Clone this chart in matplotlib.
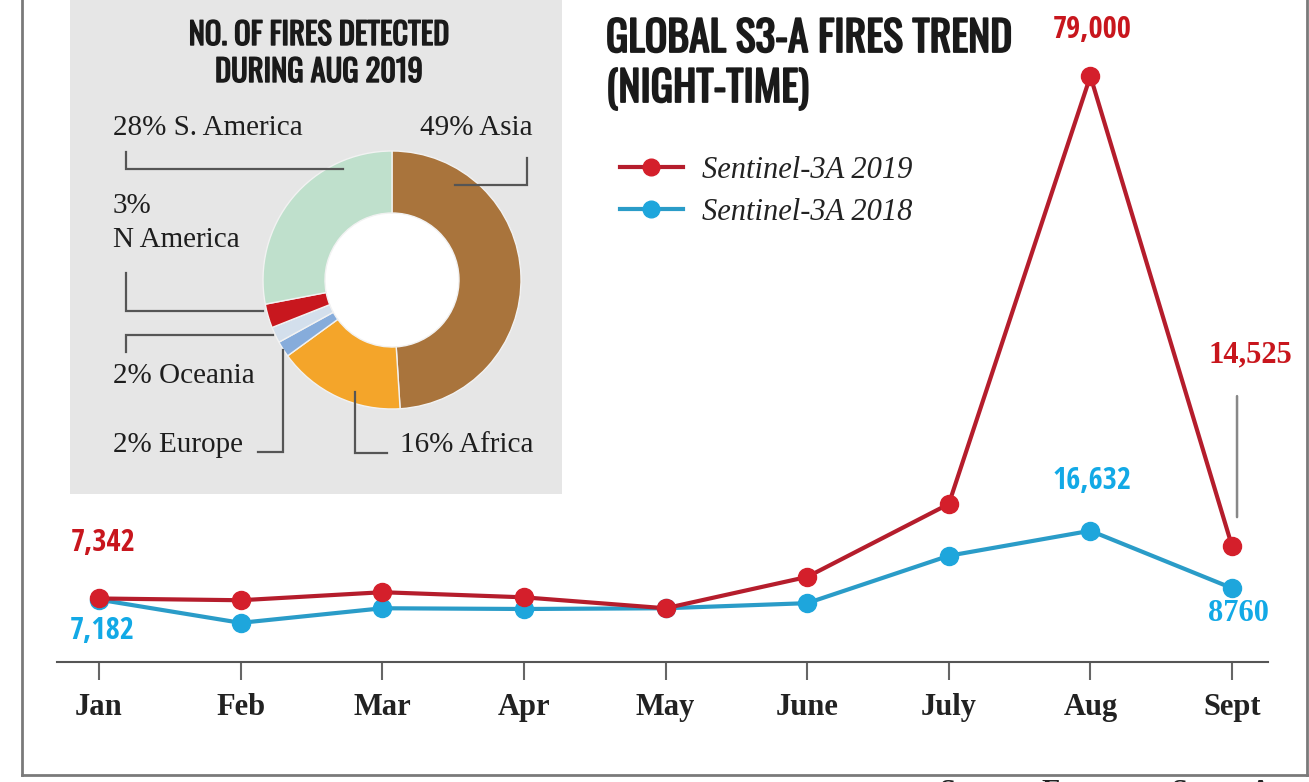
import matplotlib
matplotlib.use('Agg')
import matplotlib.pyplot as plt
import matplotlib.patheffects as pe
from matplotlib.lines import Line2D
from matplotlib.patches import Circle
from matplotlib.transforms import offset_copy

# ---------------- Data ----------------
months = ['Jan', 'Feb', 'Mar', 'Apr', 'May', 'June', 'July', 'Aug', 'Sept']
fires_2019 = [7342, 7100, 8200, 7500, 6000, 10300, 20300, 79000, 14525]
fires_2018 = [7182, 4000, 6000, 5900, 6000, 6700, 13200, 16632, 8760]

regions = ['Asia', 'Africa', 'Europe', 'Oceania', 'N America', 'S. America']
shares = [49, 16, 2, 2, 3, 28]
region_colors = ['#a9743c', '#f4a52a', '#86acdb', '#d3dfec', '#c8171e', '#bfe0cc']

# ---------------- Setup ----------------
W, H = 1309, 782
RED, RED_LINE = '#d41f2b', '#b51d2c'
BLUE, BLUE_LINE = '#1ea6dc', '#2a9cc8'
RED_TXT, BLUE_TXT = '#c8161d', '#12a9e6'
HEAD = ['Oswald', 'Open Sans Condensed', 'Liberation Sans Narrow', 'DejaVu Sans']
NUM = ['Open Sans Condensed', 'Oswald', 'Liberation Sans Narrow', 'DejaVu Sans']
SERIF = ['Liberation Serif', 'DejaVu Serif']
TITLE_FX = [pe.withStroke(linewidth=1.3, foreground='#1a1a1a')]


def fx(px):
    return px / W


def fy(py):
    return 1 - py / H


fig = plt.figure(figsize=(W / 100, H / 100), dpi=100)
fig.patch.set_facecolor('white')

# ---------------- Line chart ----------------
ax = fig.add_axes([fx(57), fy(662), fx(1268) - fx(57), fy(0) - fy(662)])
ax.patch.set_alpha(0)
x = list(range(len(months)))
ax.plot(x, fires_2018, color=BLUE_LINE, lw=3, marker='o', ms=13,
        mfc=BLUE, mec=BLUE, zorder=2)
ax.plot(x, fires_2019, color=RED_LINE, lw=3, marker='o', ms=13,
        mfc=RED, mec=RED, zorder=3)
ax.set_xlim(-0.297, 8.254)
ax.set_ylim(-1372, 89440)

for s in ['top', 'right', 'left']:
    ax.spines[s].set_visible(False)
ax.spines['bottom'].set_color('#555555')
ax.spines['bottom'].set_linewidth(1.5)
ax.set_yticks([])
ax.set_xticks(x)
ax.set_xticklabels(months, fontfamily=SERIF, fontweight='bold', fontsize=22, color='#222222')
ax.tick_params(axis='x', length=13, width=1.5, color='#666666', pad=9)


def label(i, series, text, dx, dy, color, family, size):
    ax.annotate(text, xy=(i, series[i]), xytext=(dx, dy), textcoords='offset pixels',
                ha='center', va='center', color=color, fontfamily=family,
                fontweight='bold', fontsize=size)


label(0, fires_2019, '7,342', 4, 55, RED_TXT, NUM, 22)
label(0, fires_2018, '7,182', 3, -31, BLUE_TXT, NUM, 22)
label(7, fires_2019, '79,000', 2, 46, RED_TXT, NUM, 22)
label(7, fires_2018, '16,632', 2, 50, BLUE_TXT, NUM, 22)
label(8, fires_2019, '14,525', 18, 191, RED_TXT, SERIF, 22)
label(8, fires_2018, '8760', 6, -25, BLUE_TXT, SERIF, 22)

# leader from the Sept 2019 label down to its point
ax.annotate('', xy=(8, fires_2019[8]),
            xycoords=offset_copy(ax.transData, fig=fig, x=5, y=29, units='dots'),
            xytext=(8, fires_2019[8]),
            textcoords=offset_copy(ax.transData, fig=fig, x=5, y=150, units='dots'),
            arrowprops=dict(arrowstyle='-', color='#888888', lw=1.8, shrinkA=0, shrinkB=0))

# titles + legend
fig.text(fx(606), fy(52), 'GLOBAL S3-A FIRES TREND', fontfamily=HEAD, fontweight='bold',
         fontsize=30, color='#1a1a1a', va='baseline', path_effects=TITLE_FX)
fig.text(fx(606), fy(102), '(NIGHT-TIME)', fontfamily=HEAD, fontweight='bold',
         fontsize=30, color='#1a1a1a', va='baseline', path_effects=TITLE_FX)

handles = [Line2D([], [], color=RED_LINE, lw=3, marker='o', ms=12, mfc=RED, mec=RED),
           Line2D([], [], color=BLUE_LINE, lw=3, marker='o', ms=12, mfc=BLUE, mec=BLUE)]
fig.legend(handles, ['Sentinel-3A 2019', 'Sentinel-3A 2018'], loc='upper left',
           bbox_to_anchor=(fx(620), fy(156)), frameon=False,
           prop=dict(family=SERIF, style='italic', size=22),
           handlelength=2.05, handletextpad=0.65, labelspacing=0.42,
           borderpad=0, borderaxespad=0, labelcolor='#222222')

# ---------------- Donut inset ----------------
axp = fig.add_axes([fx(70), fy(494), fx(562) - fx(70), fy(0) - fy(494)])
axp.set_facecolor('#e6e6e6')
cx, cy, r_out, ring = 392, 502, 129, 62
axp.add_patch(Circle((cx, cy), r_out - ring, color='white', zorder=0))
axp.pie(shares, colors=region_colors, startangle=90, counterclock=False,
        radius=r_out, center=(cx, cy), frame=True,
        wedgeprops=dict(width=ring, edgecolor='#f2f2f2', linewidth=1))
axp.set_xlim(70, 562)
axp.set_ylim(H - 494, H)
axp.set_aspect('equal', adjustable='box')
axp.set_xticks([])
axp.set_yticks([])
for s in axp.spines.values():
    s.set_visible(False)

axp.text(319, H - 45, 'NO. OF FIRES DETECTED', ha='center', va='baseline',
         fontfamily=HEAD, fontweight='bold', fontsize=22, color='#1a1a1a',
         path_effects=[pe.withStroke(linewidth=1.0, foreground='#1a1a1a')])
axp.text(319, H - 82, 'DURING AUG 2019', ha='center', va='baseline',
         fontfamily=HEAD, fontweight='bold', fontsize=22, color='#1a1a1a',
         path_effects=[pe.withStroke(linewidth=1.0, foreground='#1a1a1a')])

lbl = dict(fontfamily=SERIF, fontsize=21, color='#1e1e1e', va='baseline')
axp.text(113, H - 135, '28% S. America', ha='left', **lbl)
axp.text(533, H - 135, '49% Asia', ha='right', **lbl)
axp.text(113, H - 213, '3%', ha='left', **lbl)
axp.text(113, H - 247, 'N America', ha='left', **lbl)
axp.text(113, H - 383, '2% Oceania', ha='left', **lbl)
axp.text(113, H - 452, '2% Europe', ha='left', **lbl)
axp.text(533, H - 452, '16% Africa', ha='right', **lbl)

leaders = [
    [(126, 152), (126, 169), (343, 169)],
    [(455, 185), (527, 185), (527, 158)],
    [(126, 273), (126, 311), (263, 311)],
    [(273, 335), (126, 335), (126, 352)],
    [(258, 452), (283, 452), (283, 350)],
    [(355, 392), (355, 453), (387, 453)],
]
for pts in leaders:
    axp.plot([p[0] for p in pts], [H - p[1] for p in pts], color='#555555', lw=1.6,
             solid_joinstyle='miter', zorder=4)

# ---------------- Frame + source ----------------
frame_kw = dict(color='#7a7a7a', lw=2)
fig.add_artist(Line2D([fx(22), fx(22)], [fy(0), fy(775)], **frame_kw))
fig.add_artist(Line2D([fx(22), fx(1307)], [fy(775), fy(775)], **frame_kw))
fig.add_artist(Line2D([fx(1307), fx(1307)], [fy(0), fy(775)], **frame_kw))
fig.text(fx(940), fy(778), 'Source: European Space Agency', va='top', ha='left',
         fontfamily=SERIF, fontweight='bold', fontsize=21, color='#222222')

fig.savefig('out.png', dpi=100, facecolor='white')
